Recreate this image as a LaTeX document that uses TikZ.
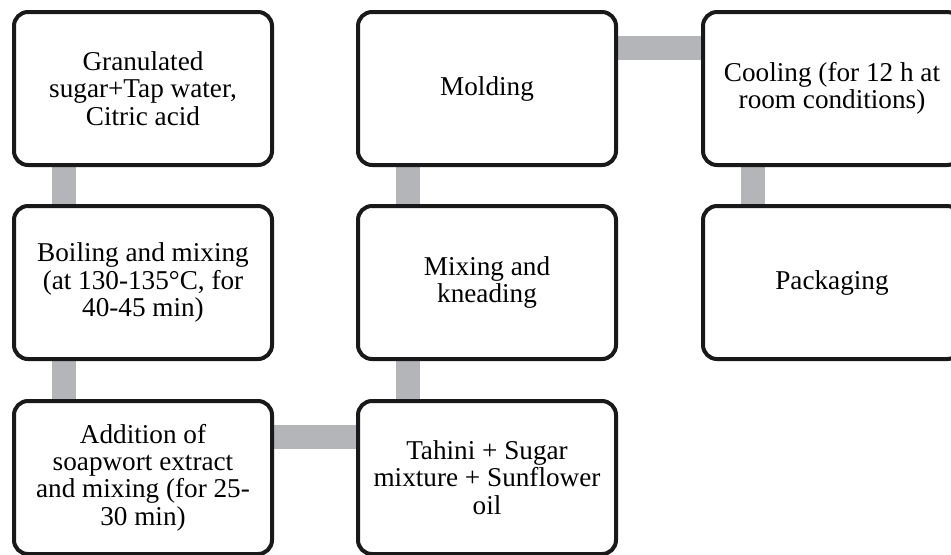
\documentclass[tikz,border=0pt]{standalone}
\usepackage{fontspec}
\setmainfont{Liberation Serif}
\usetikzlibrary{backgrounds}
\definecolor{barra}{RGB}{180,181,185}
\begin{document}
\begin{tikzpicture}[x=0.5pt,y=-0.5pt]

\tikzset{paso/.style={rectangle,rounded corners=7pt,draw=black!90,line width=2pt,fill=white,minimum width=129pt,minimum height=76.5pt,inner sep=0pt,align=center,font=\fontsize{13.6}{13.7}\selectfont}}
\tikzset{enlace/.style={line width=12pt,draw=barra}}

\path[use as bounding box,clip] (0,0) rectangle (951,554);

% first column
\draw (143,88.5) node[paso](azucar) {Granulated\\sugar+Tap water,\\Citric acid};
\draw (143,282.5) node[paso](hervido) {Boiling and mixing\\(at 130-135°C, for\\40-45 min)};
\draw (143,477.5) node[paso](adicion) {Addition of\\soapwort extract\\and mixing (for 25-\\30 min)};

% second column
\draw (487,88.5) node[paso](moldeo) {Molding};
\draw (487,282.5) node[paso](amasado) {Mixing and\\kneading};
\draw (487,477.5) node[paso](tahini) {Tahini + Sugar\\mixture + Sunflower\\oil};

% third column
\draw (832,88.5) node[paso](enfriado) {Cooling (for 12 h at\\room conditions)};
\draw (832,282.5) node[paso](envasado) {Packaging};

\begin{scope}[on background layer]
\draw[enlace] ([xshift=26pt]azucar.south west) -- ([xshift=26pt]hervido.north west);
\draw[enlace] ([xshift=26pt]hervido.south west) -- ([xshift=26pt]adicion.north west);
\draw[enlace] ([yshift=-19pt]adicion.north east) -- ([yshift=-19pt]tahini.north west);
\draw[enlace] ([xshift=26pt]tahini.north west) -- ([xshift=26pt]amasado.south west);
\draw[enlace] ([xshift=26pt]amasado.north west) -- ([xshift=26pt]moldeo.south west);
\draw[enlace] ([yshift=-19pt]moldeo.north east) -- ([yshift=-19pt]enfriado.north west);
\draw[enlace] ([xshift=26pt]enfriado.south west) -- ([xshift=26pt]envasado.north west);
\end{scope}

\end{tikzpicture}
\end{document}
